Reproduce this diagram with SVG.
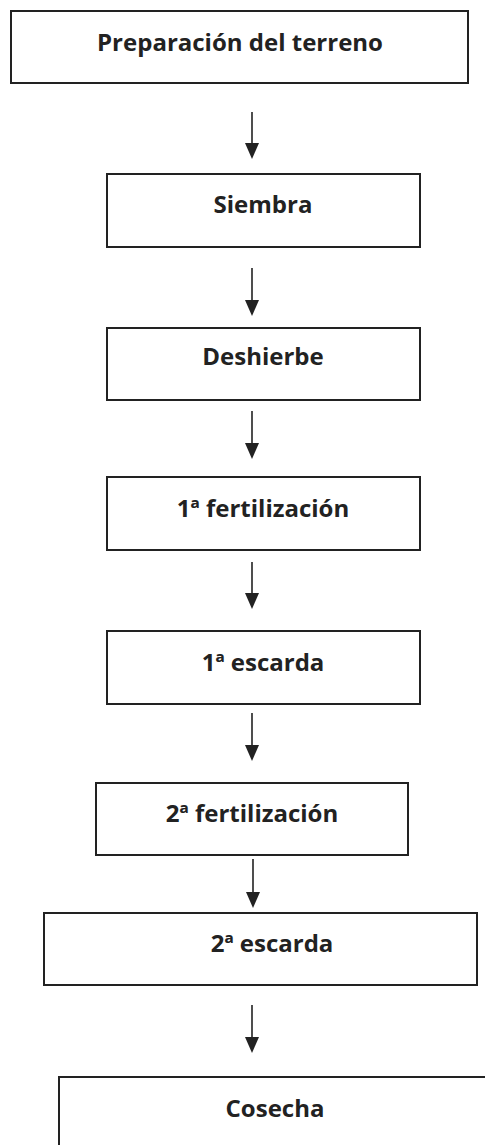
<svg xmlns="http://www.w3.org/2000/svg" width="485" height="1145" viewBox="0 0 485 1145">
<style>
.box{fill:#fff;stroke:#222;stroke-width:2}
.lbl{font-family:"Open Sans","Noto Sans",sans-serif;font-weight:bold;font-size:24px;fill:#222;text-anchor:middle}
.con line{stroke:#222;stroke-width:1.6}
.con path{fill:#222}
</style>
<rect width="485" height="1145" fill="#fff"/>
<g id="n1"><rect class="box" x="11" y="11" width="457" height="72"/><text class="lbl" x="240" y="51">Preparación del terreno</text></g>
<g id="n2"><rect class="box" x="107" y="174" width="313" height="73"/><text class="lbl" x="263" y="213">Siembra</text></g>
<g id="n3"><rect class="box" x="107" y="328" width="313" height="72"/><text class="lbl" x="263" y="365">Deshierbe</text></g>
<g id="n4"><rect class="box" x="107" y="477" width="313" height="73"/><text class="lbl" x="263" y="517">1ª fertilización</text></g>
<g id="n5"><rect class="box" x="107" y="631" width="313" height="73"/><text class="lbl" x="263" y="671">1ª escarda</text></g>
<g id="n6"><rect class="box" x="96" y="783" width="312" height="72"/><text class="lbl" x="252" y="822">2ª fertilización</text></g>
<g id="n7"><rect class="box" x="44" y="913" width="433" height="72"/><text class="lbl" x="272" y="952">2ª escarda</text></g>
<g id="n8"><rect class="box" x="59" y="1077" width="440" height="90"/><text class="lbl" x="275" y="1117">Cosecha</text></g>
<g id="connectors" class="con">
<line x1="252" y1="112" x2="252" y2="146"/><path d="M245,143 L259,143 L252,159 Z"/>
<line x1="252" y1="268" x2="252" y2="303"/><path d="M245,300 L259,300 L252,316 Z"/>
<line x1="252" y1="411" x2="252" y2="446"/><path d="M245,443 L259,443 L252,459 Z"/>
<line x1="252" y1="562" x2="252" y2="596"/><path d="M245,593 L259,593 L252,609 Z"/>
<line x1="252" y1="713" x2="252" y2="748"/><path d="M245,745 L259,745 L252,761 Z"/>
<line x1="253" y1="859" x2="253" y2="895"/><path d="M246,892 L260,892 L253,908 Z"/>
<line x1="252" y1="1005" x2="252" y2="1040"/><path d="M245,1037 L259,1037 L252,1053 Z"/>
</g>
</svg>
